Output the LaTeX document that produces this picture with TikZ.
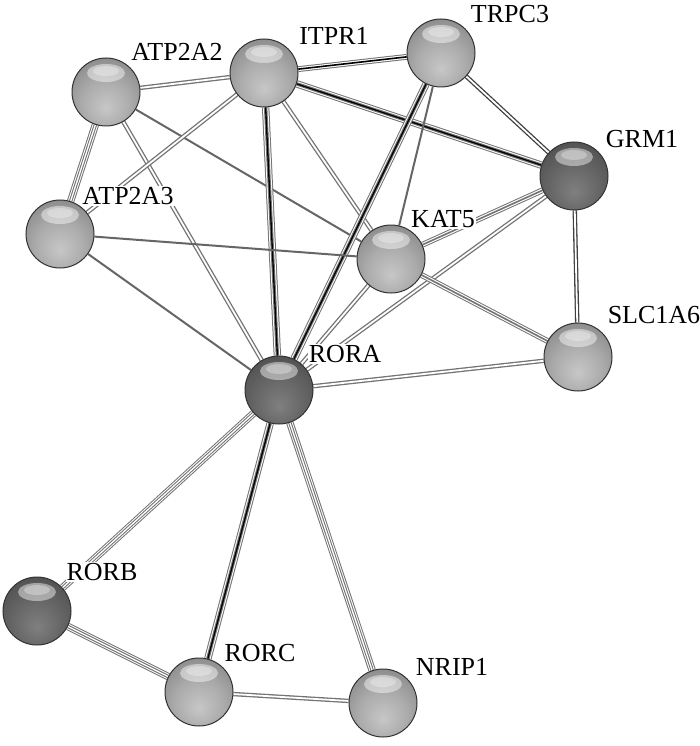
\documentclass[tikz,border=0pt]{standalone}
\usepackage{fontspec}
\setmainfont{Liberation Serif}
\newfontfamily\labfont{Liberation Serif}
\usetikzlibrary{backgrounds}
\pgfdeclareradialshading{sphereL}{\pgfpoint{0bp}{-12bp}}{color(0bp)=(black!22); color(18bp)=(black!33); color(36bp)=(black!48); color(50bp)=(black!75); color(70bp)=(black!85)}
\pgfdeclareradialshading{sphereD}{\pgfpoint{0bp}{-12bp}}{color(0bp)=(black!50); color(18bp)=(black!60); color(36bp)=(black!70); color(50bp)=(black!88); color(70bp)=(black!92)}
\begin{document}
\begin{tikzpicture}[x=1pt,y=-1pt,
  ball/.style={circle, minimum size=68pt, inner sep=0pt, shading=sphereL, draw=black!80, line width=1pt,
    path picture={\fill[white, opacity=0.45] ([yshift=-15pt]path picture bounding box.north) ellipse (19pt and 9pt);
                  \fill[white, opacity=0.3] ([yshift=-13pt]path picture bounding box.north) ellipse (13pt and 5pt);}},
  darkball/.style={ball, shading=sphereD},
  lab/.style={fill=white, inner sep=1pt, font=\labfont\fontsize{26}{30}\selectfont},
  e1/.style={draw=black!60, line width=2pt},
  e2/.style={draw=black!55, line width=4.4pt, postaction={draw=white, line width=1.8pt}},
  e3/.style={draw=black!55, line width=5.8pt, postaction={draw=white, line width=3.8pt}, postaction={draw=black!55, line width=1.6pt}},
  e4/.style={draw=black!55, line width=7.4pt, postaction={draw=white, line width=5.4pt}, postaction={draw=black!55, line width=3.4pt}, postaction={draw=white, line width=1.3pt}},
  e4d/.style={draw=black!55, line width=7.4pt, postaction={draw=white, line width=5.4pt}, postaction={draw=black!55, line width=3.4pt}, postaction={draw=black, line width=1.3pt}},
  e3d/.style={draw=black!55, line width=5.8pt, postaction={draw=white, line width=3.8pt}, postaction={draw=black, line width=1.6pt}},
  e2d/.style={draw=black!75, line width=4.4pt, postaction={draw=white, line width=1.8pt}}
]
\useasboundingbox (0,0) rectangle (700,746);

\node[ball] (ATP2A2) at (106,92) {};
\node[ball] (ITPR1) at (264,73) {};
\node[ball] (TRPC3) at (441,53) {};
\node[darkball] (GRM1) at (574,176) {};
\node[ball] (ATP2A3) at (60,234) {};
\node[ball] (KAT5) at (391,259) {};
\node[ball] (SLC1A6) at (578,357) {};
\node[darkball] (RORA) at (279,390) {};
\node[darkball] (RORB) at (37,611) {};
\node[ball] (RORC) at (199,692) {};
\node[ball] (NRIP1) at (383,703) {};

\begin{pgfonlayer}{background}
\fill[white] (0,0) rectangle (700,746);
\draw[e2] (ATP2A2) -- (ITPR1);
\draw[e4] (ATP2A2) -- (ATP2A3);
\draw[e2] (ATP2A2) -- (RORA);
\draw[e1] (ATP2A2) -- (KAT5);
\draw[e2] (ITPR1) -- (ATP2A3);
\draw[e3d] (ITPR1) -- (TRPC3);
\draw[e4d] (ITPR1) -- (GRM1);
\draw[e4d] (ITPR1) -- (RORA);
\draw[e2] (ITPR1) -- (KAT5);
\draw[e2d] (TRPC3) -- (GRM1);
\draw[e4d] (TRPC3) -- (RORA);
\draw[e1] (TRPC3) -- (KAT5);
\draw[e3] (GRM1) -- (KAT5);
\draw[e2] (GRM1) -- (RORA);
\draw[e2d] (GRM1) -- (SLC1A6);
\draw[e3] (KAT5) -- (SLC1A6);
\draw[e2] (KAT5) -- (RORA);
\draw[e1] (ATP2A3) -- (KAT5);
\draw[e1] (ATP2A3) -- (RORA);
\draw[e2] (SLC1A6) -- (RORA);
\draw[e4] (RORA) -- (RORB);
\draw[e4d] (RORA) -- (RORC);
\draw[e4] (RORA) -- (NRIP1);
\draw[e4] (RORB) -- (RORC);
\draw[e2] (RORC) -- (NRIP1);
\end{pgfonlayer}

\node[lab] (lATP2A2) at (177,52) {ATP2A2};
\node[lab] (lITPR1) at (334,36) {ITPR1};
\node[lab] (lTRPC3) at (510,14) {TRPC3};
\node[lab] (lGRM1) at (642,139) {GRM1};
\node[lab] (lATP2A3) at (128,196) {ATP2A3};
\node[lab] (lKAT5) at (443,219) {KAT5};
\node[lab] (lSLC1A6) at (654,315) {SLC1A6};
\node[lab] (lRORA) at (345,354) {RORA};
\node[lab] (lRORB) at (102,572) {RORB};
\node[lab] (lRORC) at (260,653) {RORC};
\node[lab] (lNRIP1) at (452,667) {NRIP1};
\end{tikzpicture}
\end{document}
